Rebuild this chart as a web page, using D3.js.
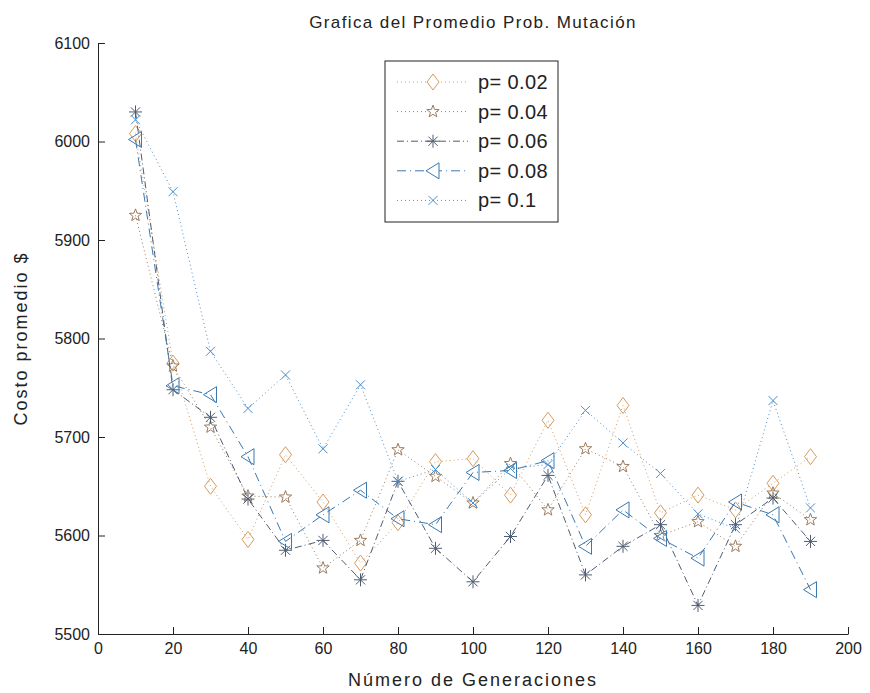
<!DOCTYPE html>
<html>
<head>
<meta charset="utf-8">
<script src="https://cdn.jsdelivr.net/npm/d3@7"></script>
<style>
  body { margin: 0; background: #fff; }
  svg { font-family: "Liberation Sans", Arial, sans-serif; display: block; }
  .axis path, .axis line { stroke: #222; }
  .axis text { font-size: 16px; fill: #222; }
</style>
</head>
<body>
<div id="chart"></div>
<script>
// Promedio de costo por generacion para cada prob. de mutacion

const generations = [10, 20, 30, 40, 50, 60, 70, 80, 90, 100, 110, 120, 130, 140, 150, 160, 170, 180, 190];

const p002 = [6008, 5775, 5650, 5596, 5682, 5634, 5572, 5613, 5675, 5678, 5641, 5717, 5621, 5732, 5623, 5641, 5626, 5653, 5680];
const p004 = [5925, 5772, 5710, 5640, 5639, 5567, 5595, 5687, 5660, 5633, 5673, 5626, 5688, 5670, 5600, 5614, 5589, 5643, 5616];
const p006 = [6030, 5748, 5720, 5637, 5585, 5595, 5555, 5655, 5587, 5553, 5599, 5661, 5560, 5589, 5611, 5529, 5611, 5638, 5594];
const p008 = [6002, 5752, 5743, 5680, 5594, 5621, 5646, 5617, 5611, 5664, 5666, 5676, 5589, 5626, 5597, 5577, 5634, 5621, 5545];
const p010 = [6022, 5949, 5787, 5729, 5763, 5688, 5753, 5655, 5667, 5633, 5668, 5672, 5727, 5694, 5663, 5622, 5607, 5737, 5628];

const xTicks = [0, 20, 40, 60, 80, 100, 120, 140, 160, 180, 200];
const yTicks = [5500, 5600, 5700, 5800, 5900, 6000, 6100];

const seriesLabels = ['p= 0.02', 'p= 0.04', 'p= 0.06', 'p= 0.08', 'p= 0.1'];

// marker shapes, drawn around (0,0)
const markers = {
    diamond: 'M0,-8L6,0L0,8L-6,0Z',
    star: (() => {
        let pts = [];
        for (let i = 0; i < 10; i++) {
            const r = i % 2 === 0 ? 6.5 : 2.7;
            const a = -Math.PI / 2 + i * Math.PI / 5;
            pts.push([r * Math.cos(a), r * Math.sin(a)]);
        }
        return 'M' + pts.map(p => p.join(',')).join('L') + 'Z';
    })(),
    asterisk: 'M0,-6.5L0,6.5M-6.5,0L6.5,0M-4.6,-4.6L4.6,4.6M-4.6,4.6L4.6,-4.6',
    triangle: 'M-7,0L6,-8L6,8Z',
    cross: 'M-4.5,-4.5L4.5,4.5M-4.5,4.5L4.5,-4.5'
};

const series = [
    { label: seriesLabels[0], values: p002, color: '#d59a5c', dash: '1,3', marker: 'diamond' },
    { label: seriesLabels[1], values: p004, color: '#9c7b5e', dash: '1,3', marker: 'star' },
    { label: seriesLabels[2], values: p006, color: '#4f5d72', dash: '7,3,1,3', marker: 'asterisk' },
    { label: seriesLabels[3], values: p008, color: '#3b78b0', dash: '9,4,1,4', marker: 'triangle' },
    { label: seriesLabels[4], values: p010, color: '#4a8fd0', dash: '1,3', marker: 'cross' }
];

const width = 870, height = 693;
const margin = { top: 43, right: 22, bottom: 59, left: 98 };
const innerWidth = width - margin.left - margin.right;
const innerHeight = height - margin.top - margin.bottom;

const svg = d3.select('#chart')
    .append('svg')
    .attr('width', width)
    .attr('height', height);

const g = svg.append('g')
    .attr('transform', `translate(${margin.left},${margin.top})`);

const x = d3.scaleLinear().domain([0, 200]).range([0, innerWidth]);
const y = d3.scaleLinear().domain([5500, 6100]).range([innerHeight, 0]);

// Axes (ticks point inward, matlab style)
g.append('g')
    .attr('class', 'axis x-axis')
    .attr('transform', `translate(0,${innerHeight})`)
    .call(d3.axisBottom(x).tickValues(xTicks).tickFormat(d3.format('d'))
        .tickSizeInner(-7).tickSizeOuter(0).tickPadding(9));

g.append('g')
    .attr('class', 'axis y-axis')
    .call(d3.axisLeft(y).tickValues(yTicks).tickFormat(d3.format('d'))
        .tickSizeInner(-7).tickSizeOuter(0).tickPadding(8));

// Lines
const line = d3.line()
    .x((d, i) => x(generations[i]))
    .y(d => y(d));

series.forEach(s => {
    g.append('path')
        .datum(s.values)
        .attr('fill', 'none')
        .attr('stroke', s.color)
        .attr('stroke-width', 1)
        .attr('stroke-dasharray', s.dash)
        .attr('d', line);

    g.selectAll(null)
        .data(s.values)
        .enter()
        .append('path')
        .attr('transform', (d, i) => `translate(${x(generations[i])},${y(d)})`)
        .attr('d', markers[s.marker])
        .attr('fill', 'none')
        .attr('stroke', s.color)
        .attr('stroke-width', 1);
});

// Title and axis labels
svg.append('text')
    .attr('x', margin.left + innerWidth / 2)
    .attr('y', 28)
    .attr('text-anchor', 'middle')
    .attr('font-size', 17)
    .attr('letter-spacing', 1.4)
    .attr('fill', '#222')
    .text('Grafica del Promedio Prob. Mutación');

svg.append('text')
    .attr('x', margin.left + innerWidth / 2)
    .attr('y', 686)
    .attr('text-anchor', 'middle')
    .attr('font-size', 18)
    .attr('letter-spacing', 2)
    .attr('fill', '#222')
    .text('Número de Generaciones');

svg.append('text')
    .attr('transform', `translate(27,${margin.top + innerHeight / 2}) rotate(-90)`)
    .attr('text-anchor', 'middle')
    .attr('font-size', 18)
    .attr('letter-spacing', 2)
    .attr('fill', '#222')
    .text('Costo promedio $');

// Legend
const legend = svg.append('g').attr('transform', 'translate(385,61)');
legend.append('rect')
    .attr('width', 173)
    .attr('height', 161)
    .attr('fill', '#fff')
    .attr('stroke', '#222');

series.forEach((s, i) => {
    const row = legend.append('g').attr('transform', `translate(0,${21 + i * 29.6})`);
    row.append('line')
        .attr('x1', 12).attr('x2', 83)
        .attr('stroke', s.color)
        .attr('stroke-dasharray', s.dash);
    row.append('path')
        .attr('transform', 'translate(48,0)')
        .attr('d', markers[s.marker])
        .attr('fill', '#fff')
        .attr('stroke', s.color);
    row.append('text')
        .attr('x', 93)
        .attr('y', 7)
        .attr('font-size', 20)
        .attr('letter-spacing', 0.4)
        .attr('fill', '#222')
        .text(s.label);
});
</script>
</body>
</html>
